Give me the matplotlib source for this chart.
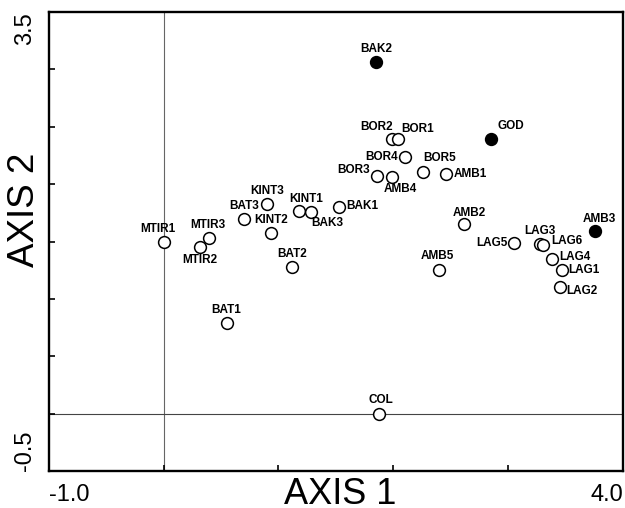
import numpy as np
import matplotlib
matplotlib.use('Agg')
import matplotlib.pyplot as plt

plt.rcParams['font.family'] = ['Liberation Sans', 'DejaVu Sans']

###############################################################################
## Data (ordination scores)
###############################################################################
sites = ['MTIR1', 'MTIR3', 'MTIR2', 'BAT3', 'KINT3', 'KINT2', 'KINT1', 'BAK3',
         'BAK1', 'BAT2', 'BAT1', 'BAK2', 'BOR2', 'BOR1', 'BOR4', 'BOR3', 'AMB4',
         'BOR5', 'AMB1', 'GOD', 'AMB2', 'AMB3', 'LAG5', 'LAG3', 'LAG6', 'LAG4',
         'LAG1', 'LAG2', 'AMB5', 'COL']
axis1 = [0.00, 0.40, 0.32, 0.70, 0.90, 0.94, 1.18, 1.28,
         1.53, 1.12, 0.55, 1.85, 1.99, 2.04, 2.10, 1.86, 1.99,
         2.26, 2.46, 2.85, 2.62, 3.76, 3.05, 3.28, 3.30, 3.38,
         3.47, 3.45, 2.40, 1.88]
axis2 = [1.50, 1.53, 1.45, 1.70, 1.83, 1.57, 1.77, 1.76,
         1.80, 1.28, 0.79, 3.06, 2.39, 2.39, 2.24, 2.07, 2.06,
         2.11, 2.09, 2.39, 1.65, 1.59, 1.49, 1.48, 1.47, 1.35,
         1.25, 1.10, 1.25, 0.00]
filled = ['BAK2', 'GOD', 'AMB3']

# label offsets from the marker centre (pixels, +y up)
lab_off = {'MTIR1': (-6, 13), 'MTIR3': (-2, 13), 'MTIR2': (0, -13),
           'BAT3': (0, 13), 'KINT3': (0, 13), 'KINT2': (0, 13),
           'KINT1': (7, 12), 'BAK3': (17, -11), 'BAK1': (23, 1),
           'BAT2': (0, 13), 'BAT1': (0, 13), 'BAK2': (0, 13),
           'BOR2': (-16, 12), 'BOR1': (20, 10), 'BOR4': (-23, 0),
           'BOR3': (-24, 6), 'AMB4': (8, -12), 'BOR5': (17, 14),
           'AMB1': (24, 0), 'GOD': (20, 13), 'AMB2': (5, 11),
           'AMB3': (4, 12), 'LAG5': (-22, 0), 'LAG3': (0, 13),
           'LAG6': (24, 4), 'LAG4': (23, 2), 'LAG1': (22, 0),
           'LAG2': (22, -4), 'AMB5': (-2, 14), 'COL': (1, 14)}

###############################################################################
fig = plt.figure(figsize=(6.25, 5.08), dpi=100)
ax = fig.add_axes([0.0778, 0.0728, 0.919, 0.9036])

ax.axvline(0, color='#666666', lw=0.8, zorder=1)
ax.axhline(0, color='#444444', lw=0.8, zorder=1)

x = np.array(axis1)
y = np.array(axis2)
is_f = np.array([s in filled for s in sites])
ax.scatter(x[~is_f], y[~is_f], s=72, facecolor='white', edgecolor='black',
           linewidth=1.1, zorder=3)
ax.scatter(x[is_f], y[is_f], s=72, facecolor='black', edgecolor='black',
           linewidth=1.1, zorder=3)

for s, xi, yi in zip(sites, axis1, axis2):
    dx, dy = lab_off[s]
    ax.annotate(s, (xi, yi), xytext=(dx, dy), textcoords='offset pixels',
                ha='center', va='center', fontsize=8.5, fontweight='bold',
                zorder=4)

ax.set_xlim(-1.0, 4.0)
ax.set_ylim(-0.5, 3.5)
ax.set_xticks(np.arange(-1.0, 4.01, 1.0))
ax.set_xticklabels(['-1.0', '', '', '', '', '4.0'])
ax.set_yticks(np.arange(-0.5, 3.51, 0.5))
ax.set_yticklabels(['-0.5'] + [''] * 7 + ['3.5'], rotation=90)
xl = ax.get_xticklabels()
xl[0].set_ha('left')
xl[-1].set_ha('right')
yl = ax.get_yticklabels()
yl[0].set_va('bottom')
yl[-1].set_va('top')
ax.tick_params(direction='in', length=4, width=1.2, labelsize=17)
ax.tick_params(axis='x', pad=9)
ax.tick_params(axis='y', pad=9)
for sp in ax.spines.values():
    sp.set_linewidth(1.7)

ax.set_xlabel('AXIS 1', fontsize=26)
ax.set_ylabel('AXIS 2', fontsize=26.5)
ax.xaxis.set_label_coords(0.508, -0.013)
ax.yaxis.set_label_coords(-0.011, 0.570)

fig.savefig('out.png', dpi=100)
